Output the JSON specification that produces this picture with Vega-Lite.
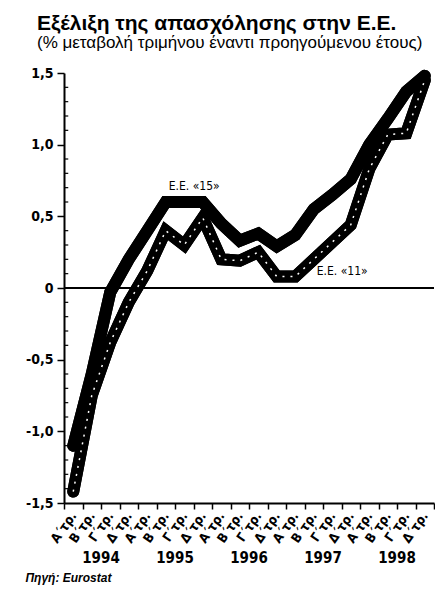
{
  "$schema": "https://vega.github.io/schema/vega-lite/v6.json",
  "width": 370,
  "height": 430,
  "autosize": {"type": "none"},
  "padding": {"left": 64, "top": 73, "right": 1, "bottom": 88},
  "background": "white",
  "config": {"view": {"stroke": null}, "font": "Liberation Sans"},
  "title": {
    "text": "Εξέλιξη της απασχόλησης στην Ε.Ε.",
    "subtitle": "(% μεταβολή τριμήνου έναντι προηγούμενου έτους)",
    "anchor": "start",
    "frame": "group",
    "dx": -27,
    "offset": 1,
    "font": "Liberation Sans",
    "fontSize": 21,
    "fontWeight": "bold",
    "color": "black",
    "subtitleFont": "Liberation Sans",
    "subtitleFontSize": 17,
    "subtitleColor": "black",
    "subtitlePadding": 1
  },
  "datasets": {
    "emp": [
      {"series": "Ε.Ε. «15»", "period": "Α΄τρ. 1994", "value": -1.1},
      {"series": "Ε.Ε. «15»", "period": "Β΄τρ. 1994", "value": -0.6},
      {"series": "Ε.Ε. «15»", "period": "Γ΄τρ. 1994", "value": -0.03},
      {"series": "Ε.Ε. «15»", "period": "Δ΄τρ. 1994", "value": 0.2},
      {"series": "Ε.Ε. «15»", "period": "Α΄τρ. 1995", "value": 0.4},
      {"series": "Ε.Ε. «15»", "period": "Β΄τρ. 1995", "value": 0.6},
      {"series": "Ε.Ε. «15»", "period": "Γ΄τρ. 1995", "value": 0.6},
      {"series": "Ε.Ε. «15»", "period": "Δ΄τρ. 1995", "value": 0.6},
      {"series": "Ε.Ε. «15»", "period": "Α΄τρ. 1996", "value": 0.45},
      {"series": "Ε.Ε. «15»", "period": "Β΄τρ. 1996", "value": 0.33},
      {"series": "Ε.Ε. «15»", "period": "Γ΄τρ. 1996", "value": 0.38},
      {"series": "Ε.Ε. «15»", "period": "Δ΄τρ. 1996", "value": 0.29},
      {"series": "Ε.Ε. «15»", "period": "Α΄τρ. 1997", "value": 0.37},
      {"series": "Ε.Ε. «15»", "period": "Β΄τρ. 1997", "value": 0.55},
      {"series": "Ε.Ε. «15»", "period": "Γ΄τρ. 1997", "value": 0.65},
      {"series": "Ε.Ε. «15»", "period": "Δ΄τρ. 1997", "value": 0.76},
      {"series": "Ε.Ε. «15»", "period": "Α΄τρ. 1998", "value": 1.0},
      {"series": "Ε.Ε. «15»", "period": "Β΄τρ. 1998", "value": 1.18},
      {"series": "Ε.Ε. «15»", "period": "Γ΄τρ. 1998", "value": 1.37},
      {"series": "Ε.Ε. «15»", "period": "Δ΄τρ. 1998", "value": 1.48},
      {"series": "Ε.Ε. «11»", "period": "Α΄τρ. 1994", "value": -1.42},
      {"series": "Ε.Ε. «11»", "period": "Β΄τρ. 1994", "value": -0.75},
      {"series": "Ε.Ε. «11»", "period": "Γ΄τρ. 1994", "value": -0.38},
      {"series": "Ε.Ε. «11»", "period": "Δ΄τρ. 1994", "value": -0.1},
      {"series": "Ε.Ε. «11»", "period": "Α΄τρ. 1995", "value": 0.12},
      {"series": "Ε.Ε. «11»", "period": "Β΄τρ. 1995", "value": 0.4},
      {"series": "Ε.Ε. «11»", "period": "Γ΄τρ. 1995", "value": 0.3},
      {"series": "Ε.Ε. «11»", "period": "Δ΄τρ. 1995", "value": 0.49},
      {"series": "Ε.Ε. «11»", "period": "Α΄τρ. 1996", "value": 0.2},
      {"series": "Ε.Ε. «11»", "period": "Β΄τρ. 1996", "value": 0.19},
      {"series": "Ε.Ε. «11»", "period": "Γ΄τρ. 1996", "value": 0.25},
      {"series": "Ε.Ε. «11»", "period": "Δ΄τρ. 1996", "value": 0.08},
      {"series": "Ε.Ε. «11»", "period": "Α΄τρ. 1997", "value": 0.08},
      {"series": "Ε.Ε. «11»", "period": "Β΄τρ. 1997", "value": 0.2},
      {"series": "Ε.Ε. «11»", "period": "Γ΄τρ. 1997", "value": 0.32},
      {"series": "Ε.Ε. «11»", "period": "Δ΄τρ. 1997", "value": 0.44},
      {"series": "Ε.Ε. «11»", "period": "Α΄τρ. 1998", "value": 0.83},
      {"series": "Ε.Ε. «11»", "period": "Β΄τρ. 1998", "value": 1.07},
      {"series": "Ε.Ε. «11»", "period": "Γ΄τρ. 1998", "value": 1.08},
      {"series": "Ε.Ε. «11»", "period": "Δ΄τρ. 1998", "value": 1.45}
    ],
    "notes": [
      {"label": "Ε.Ε. «15»", "period": "Β΄τρ. 1995", "value": 0.71},
      {"label": "Ε.Ε. «11»", "period": "Β΄τρ. 1997", "value": 0.12}
    ],
    "years": [
      {"year": "1994", "period": "Β΄τρ. 1994"},
      {"year": "1995", "period": "Β΄τρ. 1995"},
      {"year": "1996", "period": "Β΄τρ. 1996"},
      {"year": "1997", "period": "Β΄τρ. 1997"},
      {"year": "1998", "period": "Β΄τρ. 1998"}
    ],
    "minor": [
      {"value": -1.4}, {"value": -1.3}, {"value": -1.2}, {"value": -1.1},
      {"value": -0.9}, {"value": -0.8}, {"value": -0.7}, {"value": -0.6},
      {"value": -0.4}, {"value": -0.3}, {"value": -0.2}, {"value": -0.1},
      {"value": 0.1}, {"value": 0.2}, {"value": 0.3}, {"value": 0.4},
      {"value": 0.6}, {"value": 0.7}, {"value": 0.8}, {"value": 0.9},
      {"value": 1.1}, {"value": 1.2}, {"value": 1.3}, {"value": 1.4}
    ]
  },
  "layer": [
    {
      "data": {"name": "emp"},
      "mark": {"type": "line", "stroke": "black", "strokeWidth": 12, "strokeCap": "round", "strokeJoin": "miter"},
      "encoding": {
        "x": {
          "field": "period", "type": "ordinal", "sort": null,
          "scale": {"type": "band", "paddingInner": 0, "paddingOuter": 0},
          "axis": {
            "title": "Πηγή: Eurostat",
            "titleFont": "Liberation Sans", "titleFontStyle": "italic", "titleFontWeight": "bold",
            "titleFontSize": 12, "titleColor": "black",
            "titleAnchor": "start", "titleAlign": "left", "titleBaseline": "alphabetic",
            "titleX": -39, "titleY": 78,
            "domainColor": "black", "domainWidth": 2,
            "tickColor": "black", "tickWidth": 1.5, "tickSize": 6, "tickBand": "extent",
            "labelExpr": "substring(datum.label, 0, 5)",
            "labelAngle": -55, "labelAlign": "right", "labelBaseline": "middle",
            "labelFont": "Liberation Sans Narrow, DejaVu Sans Condensed, Liberation Sans",
            "labelFontSize": 13, "labelFontWeight": "bold", "labelColor": "black",
            "labelPadding": 4
          }
        },
        "y": {
          "field": "value", "type": "quantitative",
          "scale": {"domain": [-1.5, 1.5], "nice": false, "zero": false},
          "axis": {
            "title": null, "grid": false,
            "values": [-1.5, -1, -0.5, 0, 0.5, 1, 1.5],
            "labelExpr": "datum.value == 0 ? '0' : replace(replace(format(datum.value, '.1f'), '.', ','), '\u2212', '-')",
            "domainColor": "black", "domainWidth": 2,
            "tickColor": "black", "tickWidth": 1.5, "tickSize": 7,
            "labelFont": "Liberation Sans Narrow, DejaVu Sans Condensed, Liberation Sans",
            "labelFontSize": 14, "labelFontWeight": "bold", "labelColor": "black",
            "labelPadding": 4, "labelOverlap": false
          }
        },
        "detail": {"field": "series"}
      }
    },
    {
      "data": {"name": "minor"},
      "mark": {"type": "tick", "orient": "horizontal", "size": 4, "thickness": 1.2, "xOffset": -7, "color": "black", "opacity": 1},
      "encoding": {
        "x": {"datum": "Α΄τρ. 1994", "type": "ordinal"},
        "y": {"field": "value", "type": "quantitative"}
      }
    },
    {
      "data": {"name": "emp"},
      "mark": {"type": "rule", "stroke": "black", "strokeWidth": 1.5},
      "encoding": {
        "y": {"datum": 0, "type": "quantitative"}
      }
    },
    {
      "data": {"name": "emp"},
      "mark": {"type": "line", "stroke": "black", "strokeWidth": 12, "strokeCap": "round", "strokeJoin": "miter"},
      "encoding": {
        "x": {"field": "period", "type": "ordinal", "sort": null},
        "y": {"field": "value", "type": "quantitative"},
        "detail": {"field": "series"}
      }
    },
    {
      "data": {"name": "emp"},
      "transform": [{"filter": "datum.series == 'Ε.Ε. «11»'"}],
      "mark": {"type": "line", "stroke": "white", "strokeWidth": 1.5, "strokeDash": [2, 6]},
      "encoding": {
        "x": {"field": "period", "type": "ordinal", "sort": null},
        "y": {"field": "value", "type": "quantitative"}
      }
    },
    {
      "data": {"name": "notes"},
      "mark": {"type": "text", "align": "left", "baseline": "middle", "dx": 3, "fontSize": 12, "font": "Liberation Sans Narrow, DejaVu Sans Condensed, Liberation Sans", "color": "black"},
      "encoding": {
        "x": {"field": "period", "type": "ordinal", "sort": null},
        "y": {"field": "value", "type": "quantitative"},
        "text": {"field": "label"}
      }
    },
    {
      "data": {"name": "years"},
      "mark": {"type": "text", "align": "center", "baseline": "middle", "dy": 55, "fontSize": 15, "fontWeight": "bold", "font": "Liberation Sans Narrow, DejaVu Sans Condensed, Liberation Sans", "color": "black"},
      "encoding": {
        "x": {"field": "period", "type": "ordinal", "sort": null, "bandPosition": 1},
        "y": {"datum": -1.5, "type": "quantitative"},
        "text": {"field": "year"}
      }
    }
  ]
}
